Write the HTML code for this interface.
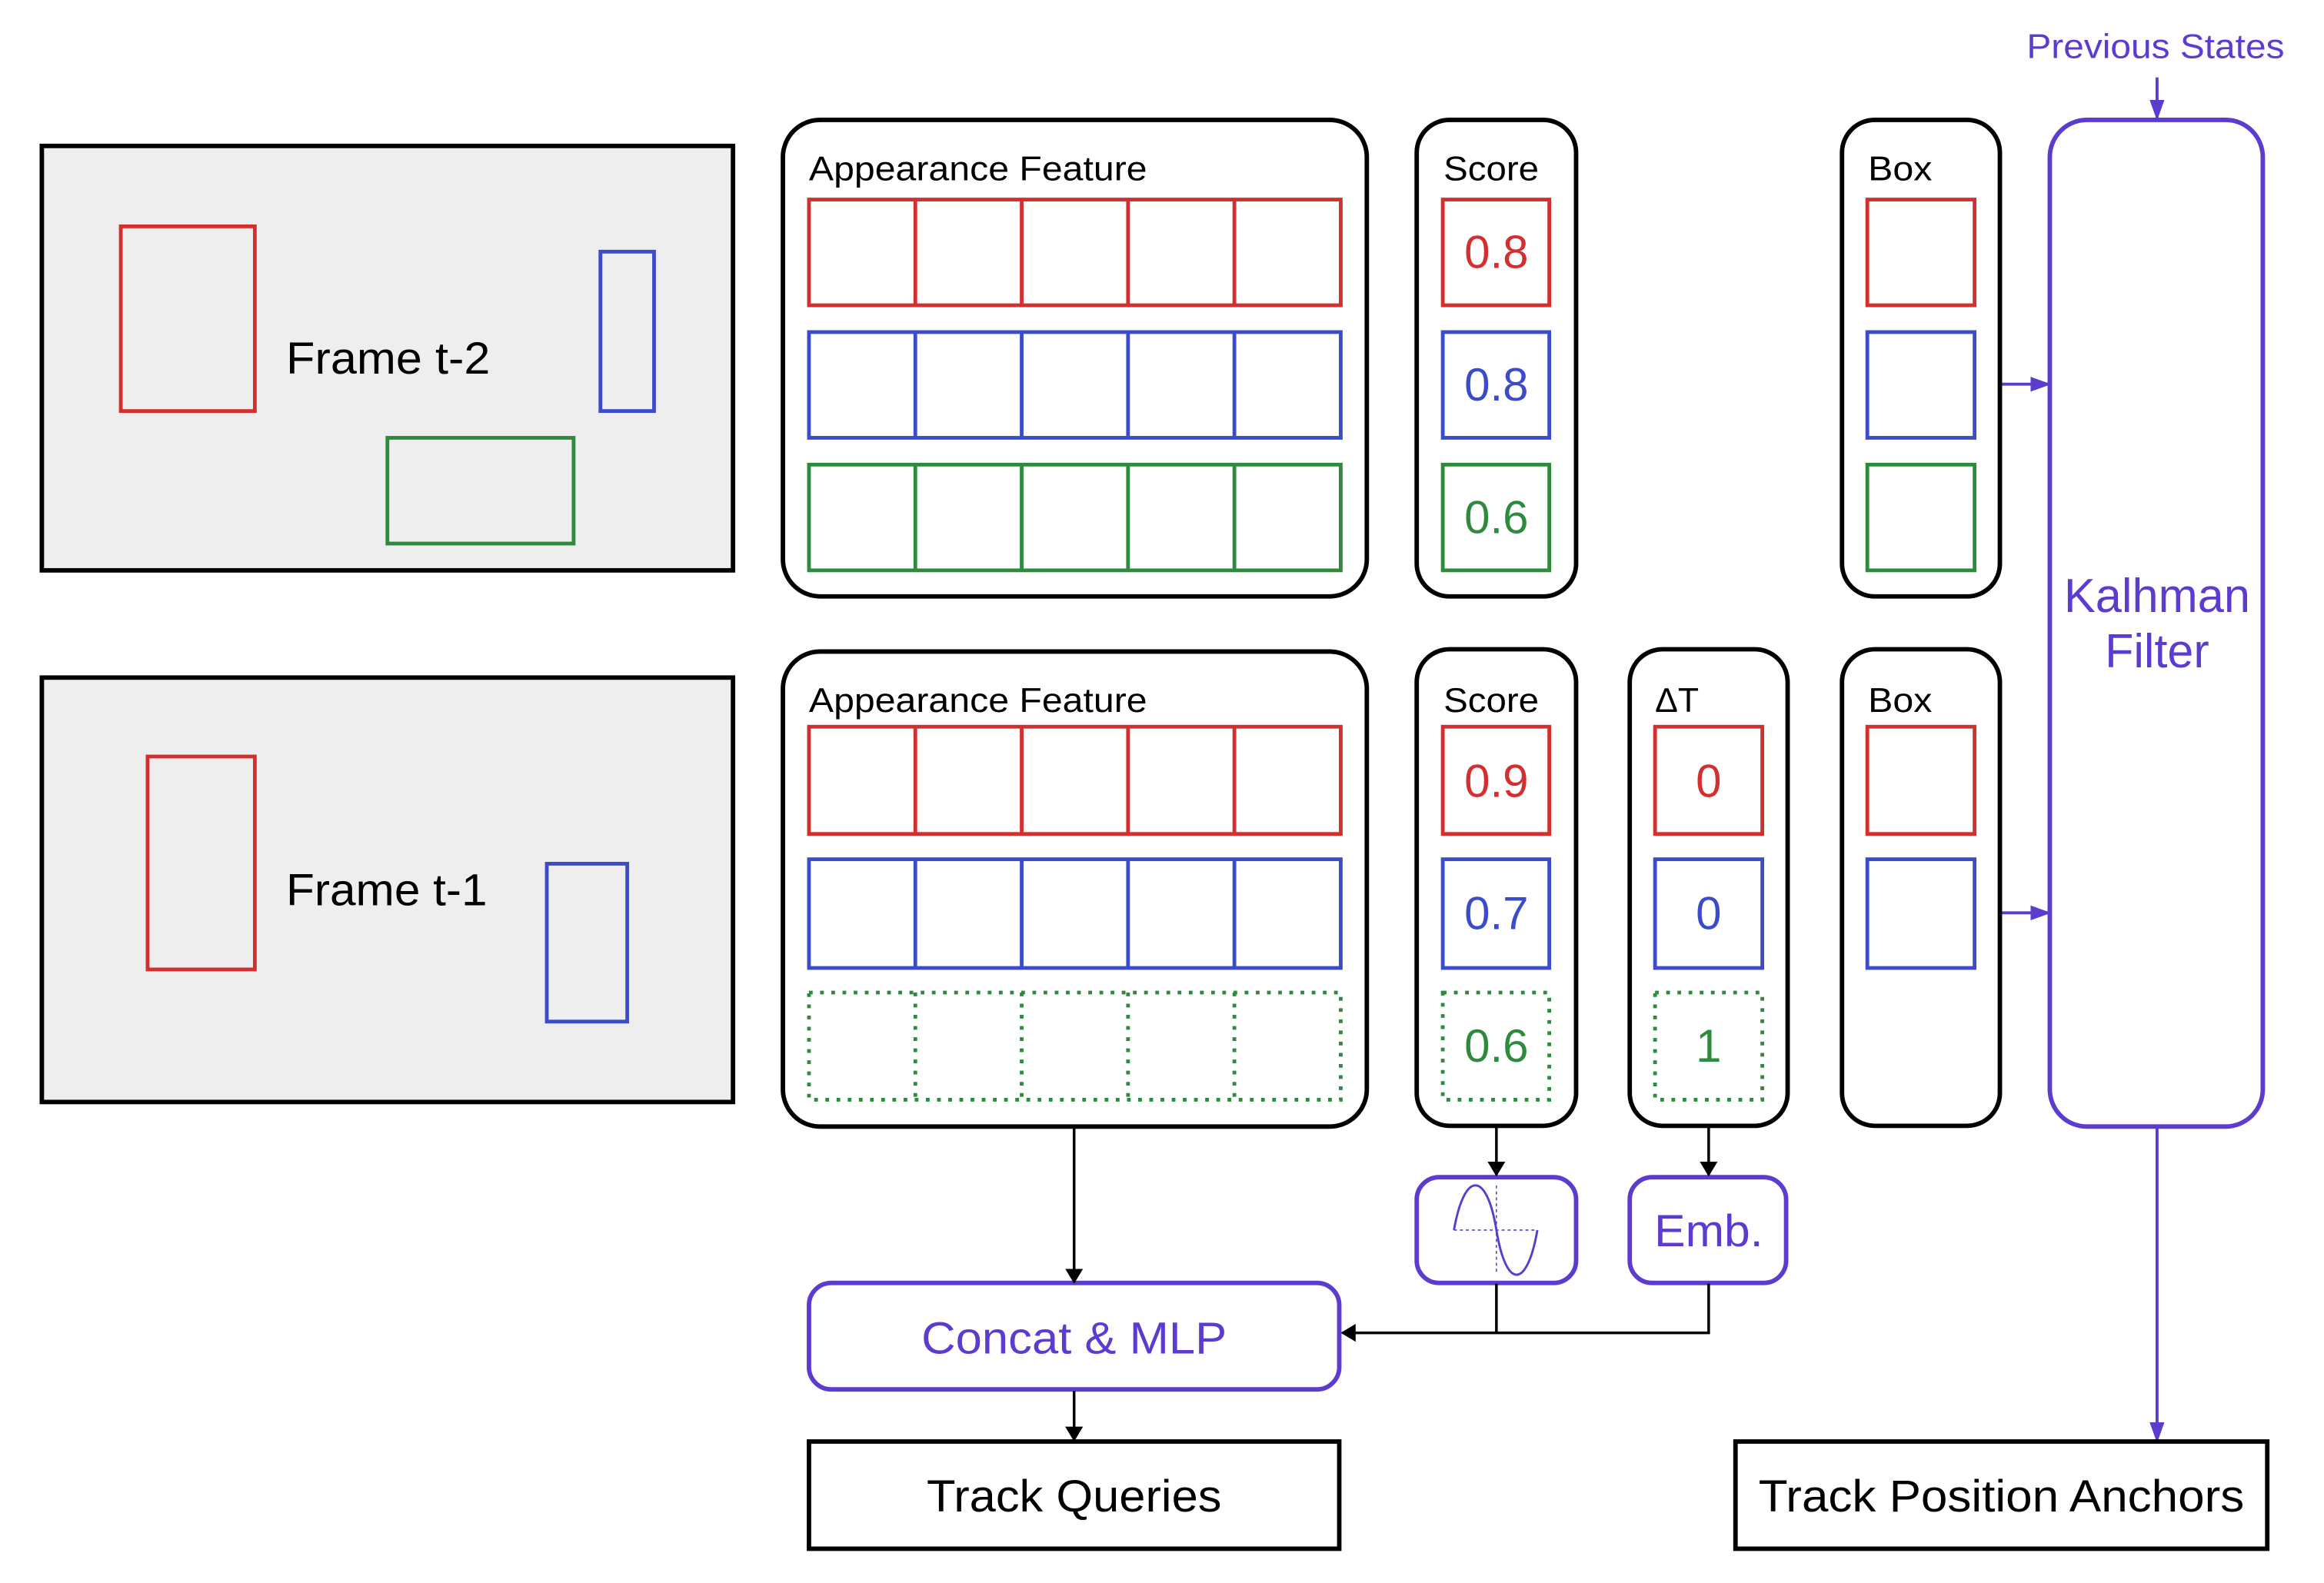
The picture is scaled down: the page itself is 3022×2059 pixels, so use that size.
<!DOCTYPE html>
<html><head><meta charset="utf-8"><style>
html,body{margin:0;padding:0;background:#fff;}
svg{display:block;}
text{font-family:"Liberation Sans",sans-serif;}
</style></head><body>
<svg width="3022" height="2059" viewBox="0 0 1560 1063" xmlns="http://www.w3.org/2000/svg">
<defs>
<marker id="ab" markerWidth="10" markerHeight="12" refX="9" refY="6" orient="auto" markerUnits="userSpaceOnUse"><path d="M0,0 L10,6 L0,12 z" fill="#000"/></marker>
<marker id="ap" markerWidth="14" markerHeight="10" refX="13" refY="5" orient="auto" markerUnits="userSpaceOnUse"><path d="M0,0 L14,5 L0,10 z" fill="#5c3ccf"/></marker>
</defs>
<rect width="1560" height="1063" fill="#fff"/>
<!-- Frames -->
<rect x="28" y="98" width="464" height="285" fill="#eeeeee" stroke="#000" stroke-width="3"/>
<rect x="81" y="152" width="90" height="124" fill="none" stroke="#d32f2f" stroke-width="2.5"/>
<rect x="403" y="169" width="36" height="107" fill="none" stroke="#3b4cca" stroke-width="2.5"/>
<rect x="260" y="294" width="125" height="71" fill="none" stroke="#2e8b3e" stroke-width="2.5"/>
<text x="192" y="251" font-size="30" textLength="137" lengthAdjust="spacingAndGlyphs">Frame t-2</text>
<rect x="28" y="455" width="464" height="285" fill="#eeeeee" stroke="#000" stroke-width="3"/>
<rect x="99" y="508" width="72" height="143" fill="none" stroke="#d32f2f" stroke-width="2.5"/>
<rect x="367" y="580" width="54" height="106" fill="none" stroke="#3b4cca" stroke-width="2.5"/>
<text x="192" y="608" font-size="30" textLength="135" lengthAdjust="spacingAndGlyphs">Frame t-1</text>

<!-- Appearance boxes -->
<rect x="525.5" y="80.5" width="392" height="320" rx="25" fill="none" stroke="#000" stroke-width="3"/>
<text x="543" y="121" font-size="23" textLength="227" lengthAdjust="spacingAndGlyphs">Appearance Feature</text>
<rect x="525.5" y="437.5" width="392" height="319" rx="25" fill="none" stroke="#000" stroke-width="3"/>
<text x="543" y="478" font-size="23" textLength="227" lengthAdjust="spacingAndGlyphs">Appearance Feature</text>
<g fill="none" stroke-width="2.5">
<g stroke="#d32f2f"><rect x="543" y="134" width="357" height="71"/><path d="M614.4 134v71M685.8 134v71M757.2 134v71M828.6 134v71"/></g>
<g stroke="#3b4cca"><rect x="543" y="223" width="357" height="71"/><path d="M614.4 223v71M685.8 223v71M757.2 223v71M828.6 223v71"/></g>
<g stroke="#2e8b3e"><rect x="543" y="312" width="357" height="71"/><path d="M614.4 312v71M685.8 312v71M757.2 312v71M828.6 312v71"/></g>
<g stroke="#d32f2f"><rect x="543" y="488" width="357" height="72"/><path d="M614.4 488v72M685.8 488v72M757.2 488v72M828.6 488v72"/></g>
<g stroke="#3b4cca"><rect x="543" y="577" width="357" height="73"/><path d="M614.4 577v73M685.8 577v73M757.2 577v73M828.6 577v73"/></g>
<g stroke="#2e8b3e" stroke-dasharray="2.5 5"><rect x="543" y="666.5" width="357" height="72"/><path d="M614.4 666.5v72M685.8 666.5v72M757.2 666.5v72M828.6 666.5v72"/></g>
</g>

<!-- Score boxes -->
<rect x="951" y="80.5" width="107" height="320" rx="22" fill="none" stroke="#000" stroke-width="3"/>
<text x="969" y="121" font-size="23" textLength="64" lengthAdjust="spacingAndGlyphs">Score</text>
<rect x="951" y="436" width="107" height="320" rx="22" fill="none" stroke="#000" stroke-width="3"/>
<text x="969" y="478" font-size="23" textLength="64" lengthAdjust="spacingAndGlyphs">Score</text>
<rect x="1094" y="436" width="106" height="320" rx="22" fill="none" stroke="#000" stroke-width="3"/>
<text x="1111" y="478" font-size="23">ΔT</text>
<rect x="1236.5" y="80.5" width="106" height="320" rx="22" fill="none" stroke="#000" stroke-width="3"/>
<text x="1254" y="121" font-size="23" textLength="43" lengthAdjust="spacingAndGlyphs">Box</text>
<rect x="1236.5" y="436" width="106" height="320" rx="22" fill="none" stroke="#000" stroke-width="3"/>
<text x="1254" y="478" font-size="23" textLength="43" lengthAdjust="spacingAndGlyphs">Box</text>
<g fill="none" stroke-width="2.5">
<rect x="968.5" y="134" width="71.5" height="71" stroke="#d32f2f"/>
<rect x="968.5" y="223" width="71.5" height="71" stroke="#3b4cca"/>
<rect x="968.5" y="312" width="71.5" height="71" stroke="#2e8b3e"/>
<rect x="968.5" y="488" width="71.5" height="72" stroke="#d32f2f"/>
<rect x="968.5" y="577" width="71.5" height="73" stroke="#3b4cca"/>
<rect x="968.5" y="666.5" width="71.5" height="72" stroke="#2e8b3e" stroke-dasharray="2.5 5"/>
<rect x="1111" y="488" width="72" height="72" stroke="#d32f2f"/>
<rect x="1111" y="577" width="72" height="73" stroke="#3b4cca"/>
<rect x="1111" y="666.5" width="72" height="72" stroke="#2e8b3e" stroke-dasharray="2.5 5"/>
<rect x="1253.5" y="134" width="72" height="71" stroke="#d32f2f"/>
<rect x="1253.5" y="223" width="72" height="71" stroke="#3b4cca"/>
<rect x="1253.5" y="312" width="72" height="71" stroke="#2e8b3e"/>
<rect x="1253.5" y="488" width="72" height="72" stroke="#d32f2f"/>
<rect x="1253.5" y="577" width="72" height="73" stroke="#3b4cca"/>
</g>
<g font-size="31" text-anchor="middle">
<text x="1004.5" y="180" fill="#d32f2f">0.8</text>
<text x="1004.5" y="269" fill="#3b4cca">0.8</text>
<text x="1004.5" y="358" fill="#2e8b3e">0.6</text>
<text x="1004.5" y="535" fill="#d32f2f">0.9</text>
<text x="1004.5" y="624" fill="#3b4cca">0.7</text>
<text x="1004.5" y="713" fill="#2e8b3e">0.6</text>
<text x="1147" y="535" fill="#d32f2f">0</text>
<text x="1147" y="624" fill="#3b4cca">0</text>
<text x="1147" y="713" fill="#2e8b3e">1</text>
</g>

<!-- Kalman -->
<text x="1447" y="39" font-size="23" fill="#5c3ccf" text-anchor="middle" textLength="173" lengthAdjust="spacingAndGlyphs">Previous States</text>
<line x1="1448" y1="52" x2="1448" y2="80" stroke="#5c3ccf" stroke-width="2" marker-end="url(#ap)"/>
<rect x="1376" y="80.5" width="143" height="676" rx="25" fill="none" stroke="#5c3ccf" stroke-width="3"/>
<text x="1448" y="411" font-size="32" fill="#5c3ccf" text-anchor="middle" textLength="125" lengthAdjust="spacingAndGlyphs">Kalhman</text>
<text x="1448" y="448" font-size="32" fill="#5c3ccf" text-anchor="middle" textLength="70" lengthAdjust="spacingAndGlyphs">Filter</text>
<line x1="1344" y1="258" x2="1376" y2="258" stroke="#5c3ccf" stroke-width="2" marker-end="url(#ap)"/>
<line x1="1344" y1="613" x2="1376" y2="613" stroke="#5c3ccf" stroke-width="2" marker-end="url(#ap)"/>
<line x1="1448" y1="757" x2="1448" y2="968" stroke="#5c3ccf" stroke-width="2" marker-end="url(#ap)"/>
<rect x="1165" y="968" width="357" height="72" fill="none" stroke="#000" stroke-width="3"/>
<text x="1343.5" y="1015" font-size="30" text-anchor="middle" textLength="326" lengthAdjust="spacingAndGlyphs">Track Position Anchors</text>

<!-- Lower -->
<rect x="951" y="790.5" width="107" height="71" rx="15" fill="none" stroke="#5c3ccf" stroke-width="3"/>
<g stroke="#5c3ccf" fill="none">
<path d="M976 826 C 983 786, 998 786, 1004.5 826 S 1025 866, 1032 826" stroke-width="1.5"/>
<path d="M976 826 H1032 M1004.5 796 V856" stroke-width="0.8" stroke-dasharray="2 2"/>
</g>
<rect x="1094" y="790.5" width="105" height="71" rx="15" fill="none" stroke="#5c3ccf" stroke-width="3"/>
<text x="1147" y="837" font-size="30" fill="#5c3ccf" text-anchor="middle" textLength="73" lengthAdjust="spacingAndGlyphs">Emb.</text>
<rect x="543" y="861.5" width="356" height="71.5" rx="15" fill="none" stroke="#5c3ccf" stroke-width="3"/>
<text x="721" y="909" font-size="30" fill="#5c3ccf" text-anchor="middle" textLength="205" lengthAdjust="spacingAndGlyphs">Concat &amp; MLP</text>
<rect x="543" y="968" width="356" height="72" fill="none" stroke="#000" stroke-width="3"/>
<text x="721" y="1015" font-size="30" text-anchor="middle" textLength="198" lengthAdjust="spacingAndGlyphs">Track Queries</text>
<g stroke="#000" stroke-width="1.8" fill="none">
<line x1="721" y1="757" x2="721" y2="861" marker-end="url(#ab)"/>
<line x1="721" y1="934" x2="721" y2="967" marker-end="url(#ab)"/>
<line x1="1004.5" y1="757" x2="1004.5" y2="789" marker-end="url(#ab)"/>
<line x1="1147" y1="757" x2="1147" y2="789" marker-end="url(#ab)"/>
<path d="M1004.5 862 V895 M1147 862 V895 H901" marker-end="url(#ab)"/>
</g>
</svg>
</body></html>
